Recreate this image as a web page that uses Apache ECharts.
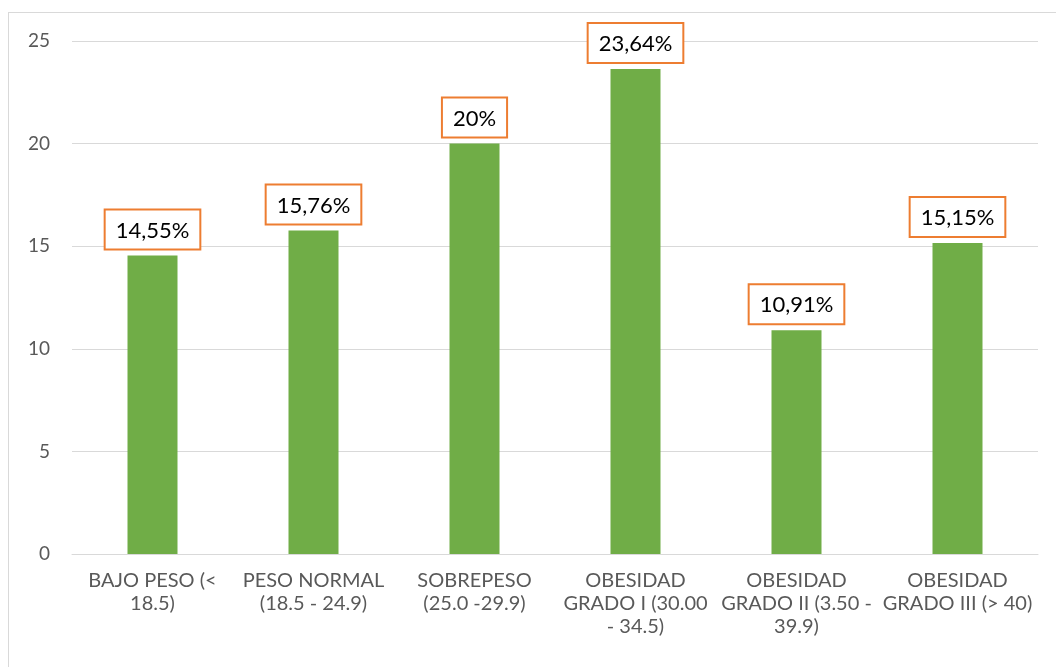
<!DOCTYPE html>
<html>
<head>
<meta charset="utf-8">
<script src="https://cdn.jsdelivr.net/npm/echarts@6/dist/echarts.min.js"></script>
<style>
	html, body {
		margin: 0;
		padding: 0;
		background: #fff;
		overflow: hidden;
	}
	.frame {
		position: absolute;
		left: 8px;
		top: 12px;
		width: 1060px;
		height: 670px;
		border: 1px solid #d9d9d9;
		box-sizing: border-box;
	}
	#chart {
		position: absolute;
		left: 0;
		top: 0;
		width: 1056px;
		height: 667px;
	}
</style>
</head>
<body>
<div class="frame"></div>
<div id="chart"></div>
<script>
// categorías (IMC)
const categories = [
	'BAJO PESO (<\n18.5)',
	'PESO NORMAL\n(18.5 - 24.9)',
	'SOBREPESO\n(25.0 -29.9)',
	'OBESIDAD\nGRADO I (30.00\n- 34.5)',
	'OBESIDAD\nGRADO II (3.50 -\n39.9)',
	'OBESIDAD\nGRADO III (> 40)',
]
// porcentajes
const values = [14.55, 15.76, 20, 23.64, 10.91, 15.15]
const yTicks = [0, 5, 10, 15, 20, 25]

const chart = echarts.init(document.getElementById('chart'))
const option = {
	animation: false,
	textStyle: {
		fontFamily: 'Lato, "Open Sans", sans-serif',
	},
	grid: {
		left: 72,
		right: 18,
		top: 41,
		bottom: 113,
	},
	xAxis: {
		type: 'category',
		data: categories,
		axisLine: {
			lineStyle: { color: '#d9d9d9', width: 1 },
		},
		axisTick: { show: false },
		axisLabel: {
			color: '#595959',
			fontSize: 20,
			lineHeight: 23,
			margin: 15,
			interval: 0,
		},
	},
	yAxis: {
		type: 'value',
		min: yTicks[0],
		max: yTicks[yTicks.length - 1],
		interval: 5,
		axisLine: { show: false },
		axisTick: { show: false },
		splitLine: {
			lineStyle: { color: '#d9d9d9', width: 1 },
		},
		axisLabel: {
			color: '#595959',
			fontSize: 19,
			margin: 22,
		},
	},
	series: [
		{
			type: 'bar',
			data: values,
			barWidth: 50,
			itemStyle: { color: '#70ad47' },
			label: {
				show: true,
				position: 'top',
				distance: 7,
				color: '#000',
				fontSize: 22,
				backgroundColor: '#fff',
				borderColor: '#ed7d31',
				borderWidth: 2,
				padding: [9, 10, 7, 10],
				formatter: (p) => String(p.value).replace('.', ',') + '%',
			},
		},
	],
}
chart.setOption(option)
window.addEventListener('resize', chart.resize)
</script>
</body>
</html>
